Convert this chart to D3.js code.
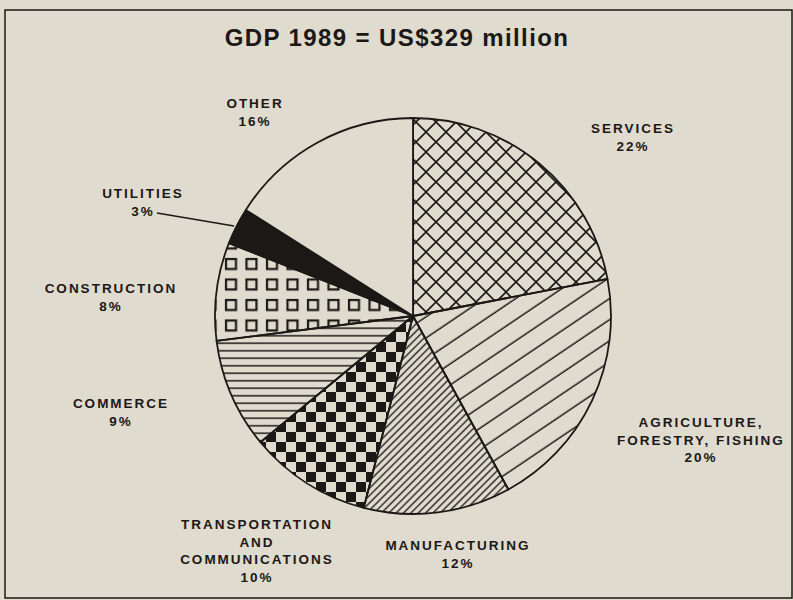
<!DOCTYPE html>
<html>
<head>
<meta charset="utf-8">
<script src="https://cdn.jsdelivr.net/npm/d3@7"></script>
<style>
  body { margin: 0; background: #dfdbce; }
  svg { display: block; }
  text { font-family: "Liberation Sans", Arial, sans-serif; font-weight: bold; fill: #1c1816; }
</style>
</head>
<body>
<svg id="chart" width="793" height="600"></svg>
<script>
const sectors = ['SERVICES', 'AGRICULTURE, FORESTRY, FISHING', 'MANUFACTURING', 'TRANSPORTATION AND COMMUNICATIONS', 'COMMERCE', 'CONSTRUCTION', 'UTILITIES', 'OTHER']
const shares = [22, 20, 12, 10, 9, 8, 3, 16]
const labelLines = [
  ['SERVICES'],
  ['AGRICULTURE,', 'FORESTRY, FISHING'],
  ['MANUFACTURING'],
  ['TRANSPORTATION', 'AND', 'COMMUNICATIONS'],
  ['COMMERCE'],
  ['CONSTRUCTION'],
  ['UTILITIES'],
  ['OTHER']
]
const fills = ['cross', 'wide', 'dense', 'checker', 'horiz', 'squares', 'solid', 'none']

const ink = '#1c1816'
const paper = '#dfdbce'

const svg = d3.select('#chart')
svg.append('rect').attr('width', 793).attr('height', 600).attr('fill', paper)
svg.append('rect')
  .attr('x', 5).attr('y', 10).attr('width', 787).attr('height', 588)
  .attr('fill', 'none').attr('stroke', ink).attr('stroke-width', 1.5)

const defs = svg.append('defs')

// cross hatch
let p = defs.append('pattern').attr('id', 'cross').attr('patternUnits', 'userSpaceOnUse')
  .attr('width', 20).attr('height', 20).attr('x', 413).attr('y', 316)
p.append('path').attr('d', 'M0,0L20,20M20,0L0,20M-10,10L10,30M10,-10L30,10M10,-10L-10,10M30,10L10,30')
  .attr('stroke', ink).attr('stroke-width', 1.6)

// wide diagonal
p = defs.append('pattern').attr('id', 'wide').attr('patternUnits', 'userSpaceOnUse')
  .attr('width', 40).attr('height', 17.5).attr('patternTransform', 'rotate(-34)')
p.append('line').attr('x1', 0).attr('x2', 40).attr('y1', 8).attr('y2', 8)
  .attr('stroke', ink).attr('stroke-width', 1.4)

// dense diagonal
p = defs.append('pattern').attr('id', 'dense').attr('patternUnits', 'userSpaceOnUse')
  .attr('width', 20).attr('height', 5.2).attr('patternTransform', 'rotate(-45)')
p.append('line').attr('x1', 0).attr('x2', 20).attr('y1', 2.6).attr('y2', 2.6)
  .attr('stroke', ink).attr('stroke-width', 1.3)

// checkerboard
p = defs.append('pattern').attr('id', 'checker').attr('patternUnits', 'userSpaceOnUse')
  .attr('width', 20).attr('height', 20).attr('x', 413).attr('y', 316)
p.append('rect').attr('width', 10).attr('height', 10).attr('fill', ink)
p.append('rect').attr('x', 10).attr('y', 10).attr('width', 10).attr('height', 10).attr('fill', ink)

// horizontal lines
p = defs.append('pattern').attr('id', 'horiz').attr('patternUnits', 'userSpaceOnUse')
  .attr('width', 20).attr('height', 7.5).attr('y', 316)
p.append('line').attr('x1', 0).attr('x2', 20).attr('y1', 3.75).attr('y2', 3.75)
  .attr('stroke', ink).attr('stroke-width', 1.5)

// open squares
p = defs.append('pattern').attr('id', 'squares').attr('patternUnits', 'userSpaceOnUse')
  .attr('width', 20.5).attr('height', 20.5).attr('x', 219).attr('y', 226)
p.append('rect').attr('x', 4).attr('y', 4).attr('width', 10).attr('height', 10)
  .attr('fill', 'none').attr('stroke', ink).attr('stroke-width', 2.2)

const fillFor = f => f === 'solid' ? ink : f === 'none' ? paper : `url(#${f})`

const cx = 413
const cy = 316
const r = 198

const data = sectors.map((s, i) => ({ sector: s, share: shares[i], fill: fills[i] }))
const pie = d3.pie().sort(null).value(d => d.share)
const arc = d3.arc().innerRadius(0).outerRadius(r)

const g = svg.append('g').attr('transform', `translate(${cx},${cy})`)
g.selectAll('path')
  .data(pie(data))
  .enter().append('path')
  .attr('d', arc)
  .attr('fill', d => fillFor(d.data.fill))
  .attr('stroke', ink)
  .attr('stroke-width', 1.8)
  .attr('stroke-linejoin', 'round')

// title
svg.append('text')
  .attr('x', 397).attr('y', 46)
  .attr('text-anchor', 'middle')
  .attr('font-size', 24)
  .attr('letter-spacing', 1.4)
  .text('GDP 1989 = US$329 million')

// label anchors (centre of each text block, first baseline)
const labelPos = [
  [633, 133], [701, 427], [458, 550], [257, 529], [121, 408], [111, 293], [143, 198], [255, 108]
]

labelLines.forEach((lines, i) => {
  const t = svg.append('text')
    .attr('text-anchor', 'middle')
    .attr('font-size', 13.5)
    .attr('letter-spacing', 2)
  lines.concat([shares[i] + '%']).forEach((line, j) => {
    t.append('tspan').attr('x', labelPos[i][0]).attr('y', labelPos[i][1] + j * 17.5).text(line)
  })
})

// leader for utilities
svg.append('line')
  .attr('x1', 157).attr('y1', 213).attr('x2', 234).attr('y2', 226)
  .attr('stroke', ink).attr('stroke-width', 1.4)
</script>
</body>
</html>
